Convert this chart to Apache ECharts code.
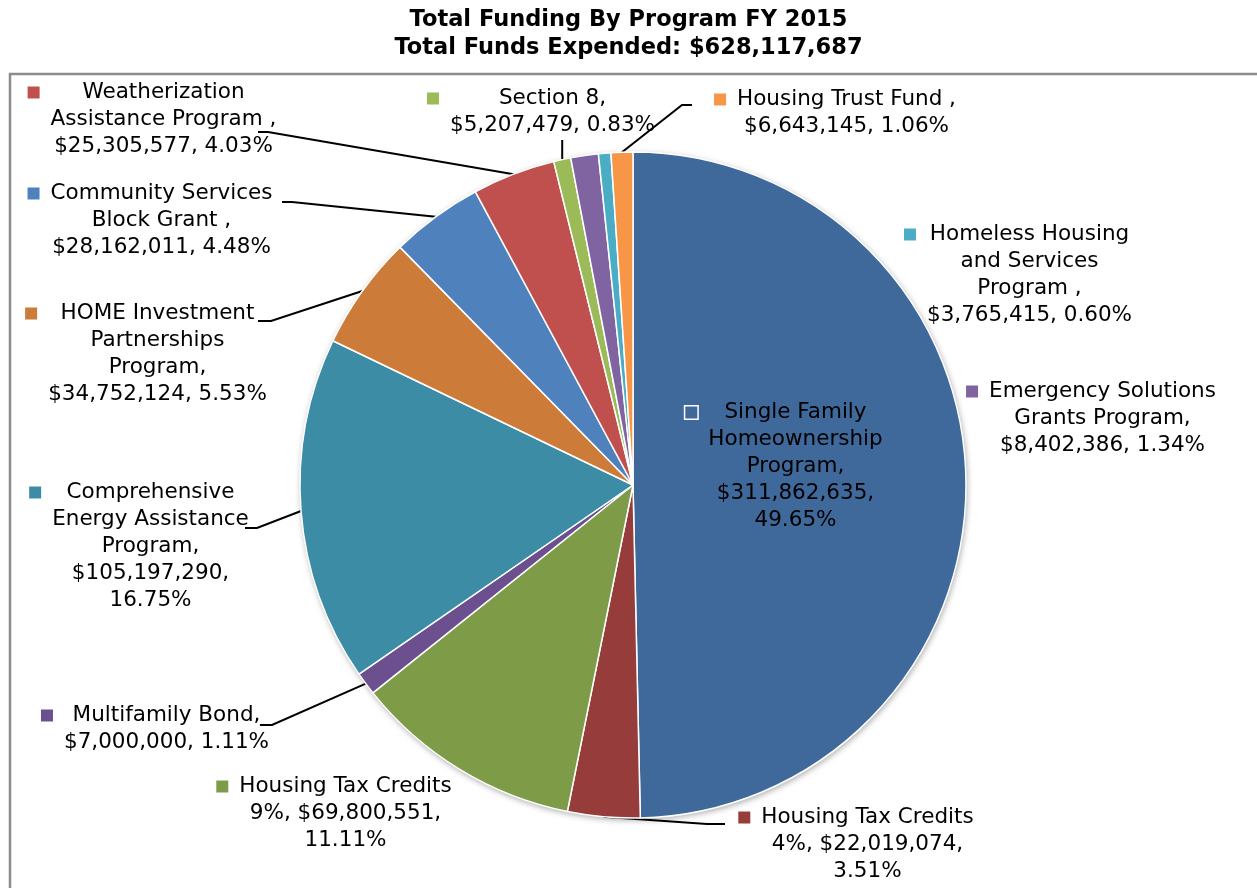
<!DOCTYPE html>
<html>
<head>
<meta charset="utf-8">
<title>Total Funding By Program FY 2015</title>
<script src="https://cdn.jsdelivr.net/npm/echarts@6/dist/echarts.min.js"></script>
<style>
  html, body { margin: 0; padding: 0; background: #fff; }
  #chart { width: 1257px; height: 888px; }
</style>
</head>
<body>
<div id="chart"></div>
<script>
// Program names (line breaks follow the label wrapping)
const programs = [
  'Single Family\nHomeownership\nProgram',
  'Housing Tax Credits\n4%',
  'Housing Tax Credits\n9%',
  'Multifamily Bond',
  'Comprehensive\nEnergy Assistance\nProgram',
  'HOME Investment\nPartnerships\nProgram',
  'Community Services\nBlock Grant ',
  'Weatherization\nAssistance Program ',
  'Section 8',
  'Emergency Solutions\nGrants Program',
  'Homeless Housing\nand Services\nProgram ',
  'Housing Trust Fund '
];

// Funds expended per program, FY 2015 (USD)
const amounts = [
  311862635, 22019074, 69800551, 7000000, 105197290, 34752124,
  28162011, 25305577, 5207479, 8402386, 3765415, 6643145
];

// Separators: [name -> amount, amount -> percent]
const valueBreaks = [
  [',\n', ',\n'], [', ', ',\n'], [', ', ',\n'], [',\n', ', '],
  [',\n', ',\n'], [',\n', ', '], [',\n', ', '], [',\n', ', '],
  [',\n', ', '], [',\n', ', '], [',\n', ', '], [',\n', ', ']
];

const palette = [
  '#40699B', '#963C3A', '#7E9B48', '#6B4F8E', '#3C8CA6', '#CC7B38',
  '#4F81BD', '#C0504D', '#9BBB59', '#8064A2', '#4BACC6', '#F79646'
];

// Label block anchors: [centre x, top y]
const labelSpots = [
  [784, 399], [856, 804], [334, 773], [155, 702], [139, 479], [146, 300],
  [150, 180], [152, 79], [541, 85], [1091, 378], [1018, 221], [835, 86]
];

// Leader line bends and ends (the start sits on the slice edge)
const leaderPaths = {
  1: [[707, 824], [725, 824]],
  3: [[272, 725], [260, 725]],
  4: [[257, 528], [245, 528]],
  5: [[271, 321], [258, 321]],
  6: [[292, 202], [282, 202]],
  7: [[268, 132], [258, 132]],
  8: [[null, 150], [null, 140]],
  11: [[682, 105], [692, 105]]
};

const total = amounts.reduce((a, b) => a + b, 0);
const money = v => '$' + v.toLocaleString('en-US');

const FONT = 'DejaVu Sans';
const FS = 21.5;
const LH = 27;

const rich = {
  t: { fontFamily: FONT, fontSize: FS, lineHeight: LH, color: '#000', align: 'center' },
  gap: { width: 11, height: 11, lineHeight: LH, align: 'left' },
  pad: { width: 23, height: 11, lineHeight: LH, align: 'left' }
};
palette.forEach((c, i) => {
  rich['m' + i] = {
    width: 12, height: 12, lineHeight: LH, align: 'left',
    backgroundColor: c,
    borderColor: i === 0 ? '#ffffff' : 'rgba(255,255,255,0.55)',
    borderWidth: i === 0 ? 1.5 : 1
  };
});

function labelText(p) {
  const i = p.dataIndex;
  const pct = (amounts[i] / total * 100).toFixed(2) + '%';
  const full = programs[i] + valueBreaks[i][0] + money(amounts[i]) + valueBreaks[i][1] + pct;
  return full.split('\n').map((ln, k) =>
    (k === 0 ? '{m' + i + '|}{gap|}' : '{pad|}') + '{t|' + ln + '}'
  ).join('\n');
}

const data = programs.map((name, i) => ({
  name: name.replace(/\n/g, ' ').trim(),
  value: amounts[i],
  itemStyle: { color: palette[i] },
  labelLine: { show: !!leaderPaths[i] }
}));

const chart = echarts.init(document.getElementById('chart'), null, { renderer: 'canvas' });

chart.setOption({
  backgroundColor: '#ffffff',
  animation: false,
  title: {
    text: 'Total Funding By Program FY 2015\nTotal Funds Expended: ' + money(total),
    left: 'center',
    top: 6,
    padding: 0,
    textStyle: {
      fontFamily: FONT, fontWeight: 'bold', fontSize: 22.5, lineHeight: 28, color: '#000'
    }
  },
  graphic: [{
    type: 'rect',
    silent: true,
    shape: { x: 10, y: 74, width: 1300, height: 900 },
    style: { fill: 'none', stroke: '#8c8c8c', lineWidth: 2.5 }
  }],
  series: [
    {
      // soft drop shadow under the pie
      type: 'pie',
      silent: true,
      z: 1,
      center: [633, 485],
      radius: 333,
      label: { show: false },
      labelLine: { show: false },
      itemStyle: {
        color: '#ffffff',
        shadowBlur: 6,
        shadowColor: 'rgba(0,0,0,0.35)',
        shadowOffsetX: 1,
        shadowOffsetY: 2
      },
      data: [{ value: 1 }]
    },
    {
      type: 'pie',
      z: 2,
      center: [633, 485],
      radius: 333,
      startAngle: 90,
      clockwise: true,
      avoidLabelOverlap: false,
      emphasis: { disabled: true },
      itemStyle: { borderColor: '#ffffff', borderWidth: 1.5 },
      label: {
        show: true,
        position: 'outside',
        formatter: labelText,
        fontFamily: FONT,
        fontSize: FS,
        lineHeight: LH,
        color: '#000',
        align: 'center',
        rich: rich
      },
      labelLine: {
        show: true,
        smooth: false,
        lineStyle: { color: '#000', width: 2 }
      },
      labelLayout: function (params) {
        const i = params.dataIndex;
        const spot = labelSpots[i];
        const out = { x: spot[0], y: spot[1], align: 'center', verticalAlign: 'top' };
        const path = leaderPaths[i];
        if (path && params.labelLinePoints) {
          const edge = params.labelLinePoints[0];
          out.labelLinePoints = [[edge[0], edge[1]]].concat(
            path.map(pt => [pt[0] == null ? edge[0] : pt[0], pt[1]])
          );
        }
        return out;
      },
      data: data
    }
  ]
});
</script>
</body>
</html>
